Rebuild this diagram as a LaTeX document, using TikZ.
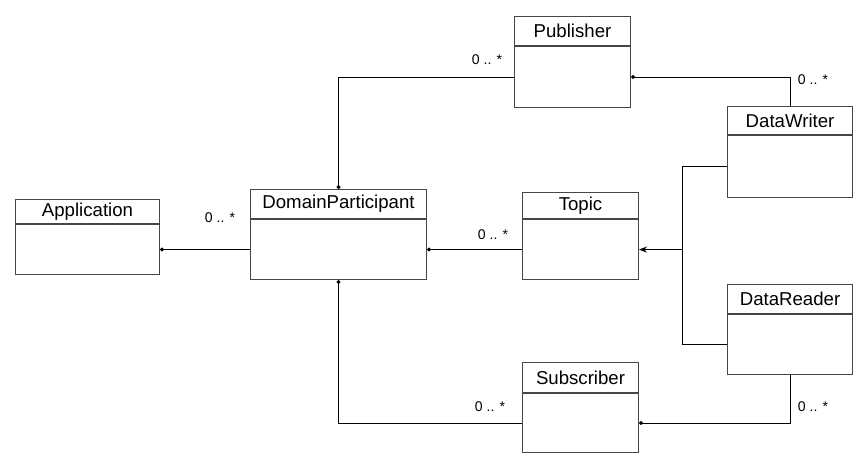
\documentclass[tikz,border=0pt]{standalone}
\usepackage{fontspec}
\setmainfont{Liberation Sans}
\usepackage{tikz}
\usetikzlibrary{arrows.meta,positioning,calc}
\definecolor{boxgray}{RGB}{70,70,70}
% class box: header node (#1) and body node (#1-b)
\newcommand{\umlclass}[6]{%
  \node[clshead, minimum width=#3cm, minimum height=#4cm, anchor=north west] (#1) at (#2) {#6};
  \node[clsbody, minimum width=#3cm, minimum height=#5cm, anchor=north west] (#1-b) at (#1.south west) {};
}
\tikzset{
  clshead/.style={rectangle, draw=boxgray, fill=white, line width=0.6pt, inner sep=0pt, font=\fontsize{10.6}{12}\selectfont},
  clsbody/.style={rectangle, draw=boxgray, fill=white, line width=0.6pt, inner sep=0pt},
  assoc/.style={line width=0.6pt, black, -{Circle[length=2.2pt]}},
  navig/.style={line width=0.6pt, black, -{Stealth[length=4.5pt,width=3.5pt]}},
  mult/.style={font=\fontsize{8}{9}\selectfont, inner sep=0pt}
}

\begin{document}
\begin{tikzpicture}
  \useasboundingbox (0,0) rectangle (17.36,-9.5);

  % classes
  \umlclass{app}{0.30,-3.98}{2.88}{0.48}{1.00}{Application}
  \umlclass{dp}{5.00,-3.78}{3.52}{0.58}{1.20}{DomainParticipant}
  \umlclass{pub}{10.28,-0.32}{2.32}{0.58}{1.22}{Publisher}
  \umlclass{topic}{10.44,-3.84}{2.32}{0.52}{1.20}{Topic}
  \umlclass{dw}{14.54,-2.12}{2.50}{0.56}{1.24}{DataWriter}
  \umlclass{dr}{14.54,-5.68}{2.50}{0.58}{1.20}{DataReader}
  \umlclass{sub}{10.44,-7.24}{2.32}{0.60}{1.18}{Subscriber}

  % participant links
  \draw[assoc] (dp-b.west) -- (dp-b.west -| app-b.east);
  \node[mult] (m1) at (4.40,-4.36) {0 .. *};
  \draw[assoc] (topic-b.west) -- (topic-b.west -| dp-b.east);
  \node[mult] (m2) at (9.86,-4.70) {0 .. *};
  \draw[assoc] (pub-b.west) -| (dp.north);
  \node[mult] (m3) at (9.74,-1.20) {0 .. *};
  \draw[assoc] (sub-b.west) -| (dp-b.south);
  \node[mult] (m4) at (9.80,-8.14) {0 .. *};

  % writer and reader
  \draw[assoc] (dw.north) |- (pub-b.east);
  \node[mult] (m5) at (16.26,-1.60) {0 .. *};
  \draw[assoc] (dr-b.south) |- (sub-b.east);
  \node[mult] (m6) at (16.26,-8.14) {0 .. *};

  % both refer to topic
  \coordinate (jn) at (13.65,0 |- topic-b.east);
  \draw[line width=0.6pt] (dw-b.west) -| (jn) |- (dr-b.west);
  \draw[navig] (jn) -- (topic-b.east);
\end{tikzpicture}
\end{document}
